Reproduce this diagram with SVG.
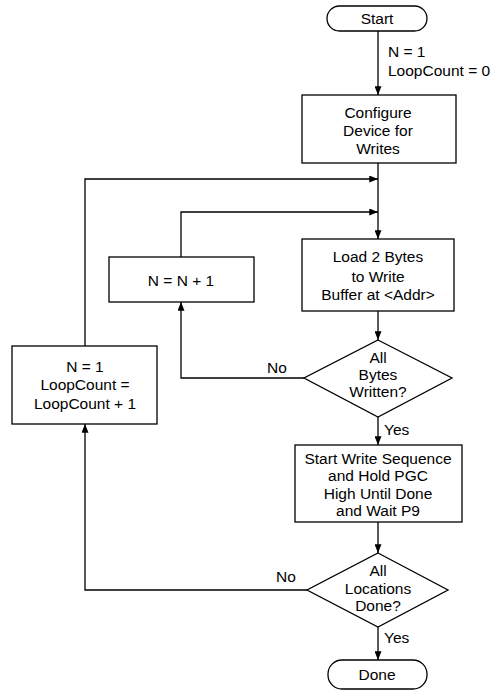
<svg xmlns="http://www.w3.org/2000/svg" width="503" height="698" viewBox="0 0 503 698">
<style>
.s{fill:#fff;stroke:#000;stroke-width:1.3}
.t{font-family:"Liberation Sans",Arial,sans-serif;font-size:15.5px;fill:#000;text-anchor:middle}
.l{font-family:"Liberation Sans",Arial,sans-serif;font-size:15.5px;fill:#000}
.c{fill:none;stroke:#000;stroke-width:1.3}
</style>
<defs>
<marker id="a" viewBox="0 0 10 8" refX="10" refY="4" markerWidth="9" markerHeight="7" markerUnits="userSpaceOnUse" orient="auto">
<path d="M0,0 L10,4 L0,8 z" fill="#000"/>
</marker>
</defs>
<rect width="503" height="698" fill="#fff"/>
<g id="connectors">
<line class="c" x1="378" y1="30" x2="378" y2="95" marker-end="url(#a)"/>
<line class="c" x1="378" y1="163" x2="378" y2="239" marker-end="url(#a)"/>
<line class="c" x1="378" y1="311" x2="378" y2="340" marker-end="url(#a)"/>
<line class="c" x1="378" y1="417" x2="378" y2="445" marker-end="url(#a)"/>
<line class="c" x1="378" y1="522" x2="378" y2="553" marker-end="url(#a)"/>
<line class="c" x1="378" y1="627" x2="378" y2="660" marker-end="url(#a)"/>
<polyline class="c" points="304,378 181,378 181,302" marker-end="url(#a)"/>
<polyline class="c" points="181,257 181,212 378,212" marker-end="url(#a)"/>
<polyline class="c" points="307,590 85,590 85,424" marker-end="url(#a)"/>
<polyline class="c" points="85,346 85,179 378,179" marker-end="url(#a)"/>
<text class="l" x="388" y="57">N = 1</text>
<text class="l" x="388" y="76">LoopCount = 0</text>
<text class="l" x="267" y="373">No</text>
<text class="l" x="384" y="435">Yes</text>
<text class="l" x="276" y="582">No</text>
<text class="l" x="384" y="643">Yes</text>
</g>
<g id="start">
<rect class="s" x="327" y="6" width="100" height="25" rx="12.5"/>
<text class="t" x="377" y="24">Start</text>
</g>
<g id="configure">
<rect class="s" x="302" y="95" width="154" height="68"/>
<text class="t" x="378" y="118">Configure</text>
<text class="t" x="378" y="136">Device for</text>
<text class="t" x="378" y="154">Writes</text>
</g>
<g id="load">
<rect class="s" x="302" y="239" width="152" height="72"/>
<text class="t" x="378" y="262">Load 2 Bytes</text>
<text class="t" x="378" y="282">to Write</text>
<text class="t" x="378" y="300">Buffer at &lt;Addr&gt;</text>
</g>
<g id="incN">
<rect class="s" x="109" y="257" width="145" height="45"/>
<text class="t" x="181" y="286">N = N + 1</text>
</g>
<g id="resetN">
<rect class="s" x="12" y="346" width="145" height="78"/>
<text class="t" x="85" y="372">N = 1</text>
<text class="t" x="85" y="390">LoopCount =</text>
<text class="t" x="85" y="409">LoopCount + 1</text>
</g>
<g id="bytesWritten">
<polygon class="s" points="378,340 452,378 378,417 304,378"/>
<text class="t" x="378" y="363">All</text>
<text class="t" x="378" y="380">Bytes</text>
<text class="t" x="378" y="397">Written?</text>
</g>
<g id="startWrite">
<rect class="s" x="295" y="445" width="167" height="77"/>
<text class="t" x="378" y="464">Start Write Sequence</text>
<text class="t" x="378" y="481">and Hold PGC</text>
<text class="t" x="378" y="499">High Until Done</text>
<text class="t" x="378" y="516">and Wait P9</text>
</g>
<g id="locationsDone">
<polygon class="s" points="378,553 448,590 378,627 307,590"/>
<text class="t" x="378" y="576">All</text>
<text class="t" x="378" y="594">Locations</text>
<text class="t" x="378" y="611">Done?</text>
</g>
<g id="done">
<rect class="s" x="328" y="660" width="99" height="29" rx="14"/>
<text class="t" x="377" y="680">Done</text>
</g>
</svg>
